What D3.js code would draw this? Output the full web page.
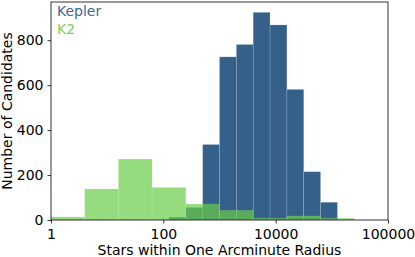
<!DOCTYPE html>
<html>
<head>
<meta charset="utf-8">
<script src="https://cdn.jsdelivr.net/npm/d3@7"></script>
<style>
  body { margin: 0; background: #fff; }
  text { font-family: "DejaVu Sans", sans-serif; }
</style>
</head>
<body>
<svg id="chart"></svg>
<script>
// histogram data (bin edges are log10 of star count)
const keplerEdges = [2.1, 2.4, 2.7, 3.0, 3.3, 3.6, 3.9, 4.2, 4.5, 4.8, 5.1];
const keplerCounts = [13, 56, 336, 726, 781, 924, 868, 581, 215, 79];
const k2Edges = [0, 0.6, 1.2, 1.8, 2.4, 3.0, 3.6, 4.2, 4.8, 5.4];
const k2Counts = [14, 138, 271, 145, 71, 43, 8, 18, 8];
const xTickValues = [1, 100, 10000, 1000000];
const xTickLabels = ["1", "100", "10000", "100000"];
const yTickValues = [0, 200, 400, 600, 800];

const W = 415, H = 257;
const margin = { left: 51, right: 27, top: 2, bottom: 37 };
const FONT = 14;

const svg = d3.select("#chart").attr("width", W).attr("height", H);

const x = d3.scaleLog()
  .domain([1, 1e6])
  .range([margin.left, W - margin.right]);
const y = d3.scaleLinear()
  .domain([0, 970])
  .range([H - margin.bottom, margin.top]);

function toBins(edges, counts) {
  return counts.map((c, i) => ({ x0: Math.pow(10, edges[i]), x1: Math.pow(10, edges[i + 1]), n: c }));
}

// Kepler bars
svg.append("g").selectAll("rect")
  .data(toBins(keplerEdges, keplerCounts))
  .join("rect")
  .attr("x", d => x(d.x0))
  .attr("width", d => x(d.x1) - x(d.x0))
  .attr("y", d => y(d.n))
  .attr("height", d => y(0) - y(d.n))
  .attr("fill", "#356089")
  .attr("stroke", "rgba(255,255,255,0.25)")
  .attr("stroke-width", 0.6);

// K2 bars, semi transparent on top
svg.append("g").selectAll("rect")
  .data(toBins(k2Edges, k2Counts))
  .join("rect")
  .attr("x", d => x(d.x0))
  .attr("width", d => x(d.x1) - x(d.x0))
  .attr("y", d => y(d.n))
  .attr("height", d => y(0) - y(d.n))
  .attr("fill", "#68cd47")
  .attr("fill-opacity", 0.7)
  .attr("stroke", "rgba(255,255,255,0.15)")
  .attr("stroke-width", 0.6);

// axes
const xAxis = d3.axisBottom(x)
  .tickValues(xTickValues)
  .tickFormat((d, i) => xTickLabels[i])
  .tickSize(3.5)
  .tickPadding(5.5);
const gx = svg.append("g")
  .attr("transform", `translate(0,${y(0)})`)
  .call(xAxis);

const yAxis = d3.axisLeft(y)
  .tickValues(yTickValues)
  .tickSize(3.5)
  .tickPadding(4);
const gy = svg.append("g")
  .attr("transform", `translate(${margin.left},0)`)
  .call(yAxis);

[gx, gy].forEach(g => {
  g.select(".domain").remove();
  g.selectAll("text").attr("font-size", FONT).attr("fill", "#000")
    .style("font-family", "DejaVu Sans");
  g.selectAll("line").attr("stroke", "#000").attr("stroke-width", 0.8);
});

// frame
svg.append("rect")
  .attr("x", margin.left)
  .attr("y", margin.top)
  .attr("width", W - margin.right - margin.left)
  .attr("height", y(0) - margin.top)
  .attr("fill", "none")
  .attr("stroke", "#000")
  .attr("stroke-width", 0.8);

// axis titles
svg.append("text")
  .attr("x", (margin.left + W - margin.right) / 2)
  .attr("y", 255)
  .attr("text-anchor", "middle")
  .attr("font-size", FONT)
  .text("Stars within One Arcminute Radius");

svg.append("text")
  .attr("transform", `translate(12,${(margin.top + y(0)) / 2}) rotate(-90)`)
  .attr("text-anchor", "middle")
  .attr("font-size", FONT)
  .text("Number of Candidates");

// legend text
svg.append("text")
  .attr("x", 57).attr("y", 15.5)
  .attr("font-size", FONT)
  .attr("fill", "#3a6a96")
  .text("Kepler");
svg.append("text")
  .attr("x", 57).attr("y", 34)
  .attr("font-size", FONT)
  .attr("fill", "#79d160")
  .text("K2");
</script>
</body>
</html>
